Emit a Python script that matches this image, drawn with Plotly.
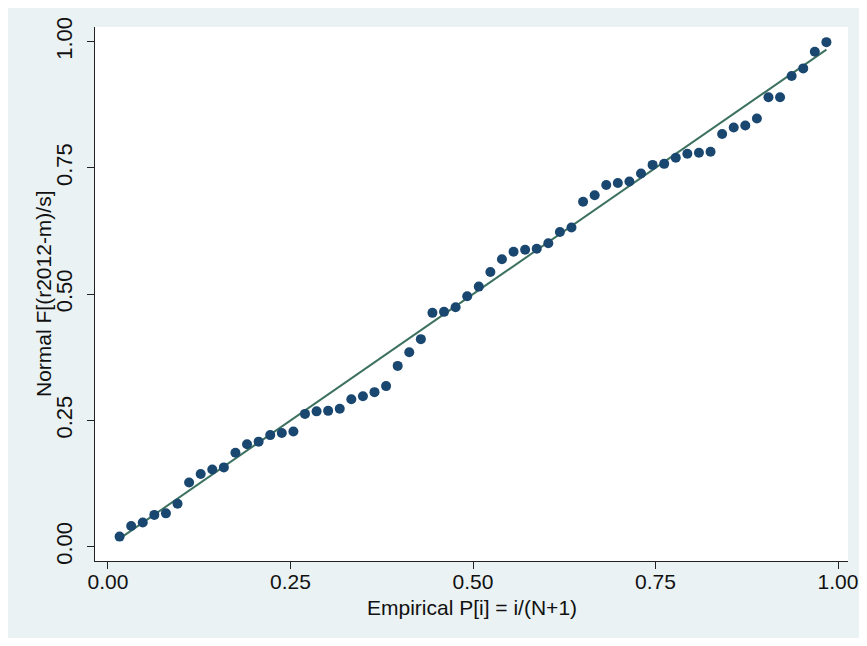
import numpy as np
import plotly.graph_objects as go

# pnorm-style plot: empirical P[i] = i/(N+1) against normal F[(r2012-m)/s]
n_obs = 62
rank = np.arange(1, n_obs + 1)
empirical_p = rank / (n_obs + 1)

normal_f = [
    0.020, 0.041, 0.048, 0.063, 0.066, 0.085, 0.127, 0.144, 0.153, 0.157,
    0.186, 0.203, 0.208, 0.221, 0.225, 0.228, 0.263, 0.268, 0.269, 0.273,
    0.292, 0.298, 0.306, 0.318, 0.358, 0.385, 0.411, 0.463, 0.465, 0.474,
    0.496, 0.515, 0.544, 0.569, 0.584, 0.588, 0.590, 0.601, 0.623, 0.632,
    0.683, 0.696, 0.716, 0.720, 0.723, 0.739, 0.756, 0.758, 0.770, 0.778,
    0.780, 0.782, 0.817, 0.830, 0.834, 0.848, 0.890, 0.890, 0.932, 0.947,
    0.980, 0.999,
]

tick_vals = [0, 0.25, 0.5, 0.75, 1]
tick_text = ["0.00", "0.25", "0.50", "0.75", "1.00"]

fig = go.Figure()

# reference line y = x
fig.add_trace(go.Scatter(
    x=[empirical_p[0], empirical_p[-1]],
    y=[empirical_p[0], empirical_p[-1]],
    mode="lines",
    line=dict(color="#3d7160", width=2),
    hoverinfo="skip",
))

fig.add_trace(go.Scatter(
    x=empirical_p,
    y=normal_f,
    mode="markers",
    marker=dict(color="#1a476f", size=10, line=dict(width=0)),
))

x_tick_font = dict(family="Liberation Sans, Arial", size=21, color="#111111")
y_tick_font = dict(family="Liberation Sans, Arial", size=22, color="#111111")
title_font = dict(family="Liberation Sans, Arial", size=21, color="#111111")

fig.update_xaxes(
    range=[-0.0178, 1.0137],
    tickvals=tick_vals,
    ticktext=tick_text,
    ticks="outside",
    ticklen=7,
    tickcolor="#222222",
    ticklabelstandoff=-5,
    ticklabeloverflow="allow",
    automargin=False,
    showline=True,
    linewidth=1,
    linecolor="#222222",
    showgrid=False,
    zeroline=False,
    tickfont=x_tick_font,
)
fig.update_yaxes(
    range=[-0.0283, 1.029],
    tickvals=tick_vals,
    ticktext=tick_text,
    tickangle=-90,
    ticks="outside",
    ticklen=7,
    tickcolor="#222222",
    ticklabelstandoff=6,
    automargin=False,
    showline=True,
    linewidth=1,
    linecolor="#222222",
    showgrid=False,
    zeroline=False,
    tickfont=y_tick_font,
)

# axis titles placed by hand, like the Stata layout
fig.add_annotation(
    text="Empirical P[i] = i/(N+1)", font=title_font, showarrow=False,
    xref="paper", yref="paper", x=0.5, y=0, xanchor="center", yanchor="middle", yshift=-46,
)
fig.add_annotation(
    text="Normal F[(r2012-m)/s]", font=title_font, showarrow=False, textangle=-90,
    xref="paper", yref="paper", x=0, y=0.5, xanchor="center", yanchor="middle", xshift=-52,
)

fig.update_layout(
    width=851,
    height=630,
    margin=dict(l=87, r=11, t=19, b=77),
    paper_bgcolor="#eaf2f3",
    plot_bgcolor="white",
    showlegend=False,
)

fig.write_html("out.html")
